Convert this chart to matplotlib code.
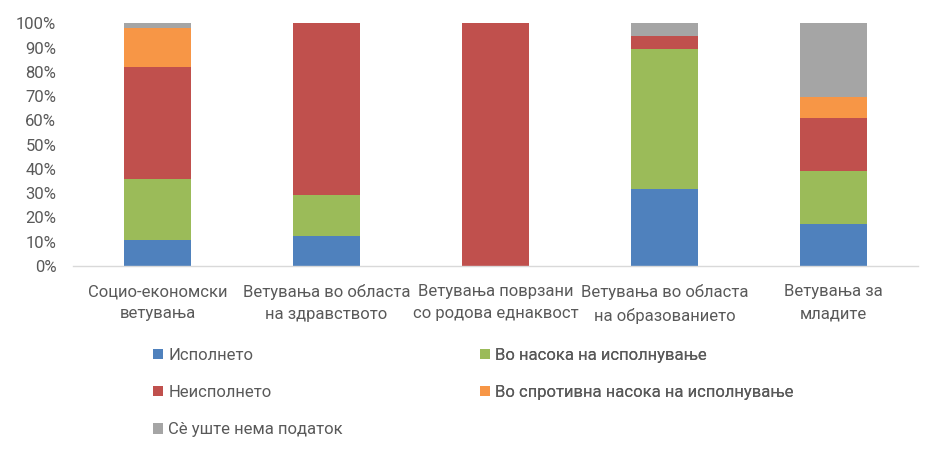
import matplotlib.pyplot as plt
import numpy as np

plt.rcParams['font.family'] = ['Roboto', 'DejaVu Sans']

categories = ["Социо-економски\nветувања", "Ветувања во областа\nна здравството",
              "Ветувања поврзани\nсо родова еднаквост", "Ветувања во областа\nна образованието",
              "Ветувања за\nмладите"]

# percentages per bar
ispolneto = [10.7, 12.5, 0.0, 31.6, 17.4]
vo_nasoka = [25.0, 16.7, 0.0, 57.9, 21.7]
neispolneto = [46.4, 70.8, 100.0, 5.3, 21.7]
sprotivna = [16.1, 0.0, 0.0, 0.0, 8.7]
nema_podatok = [1.8, 0.0, 0.0, 5.2, 30.5]

series = [
    ("Исполнето", ispolneto, "#4F81BD"),
    ("Во насока на исполнување", vo_nasoka, "#9BBB59"),
    ("Неисполнето", neispolneto, "#C0504D"),
    ("Во спротивна насока на исполнување", sprotivna, "#F79646"),
    ("Сè уште нема податок", nema_podatok, "#A5A5A5"),
]

fig = plt.figure(figsize=(9.4, 4.53), dpi=100)
ax = fig.add_axes([0.0777, 0.4128, 0.899, 0.5358])

x = np.arange(len(categories))
bottom = np.zeros(len(categories))
handles = {}
for name, vals, col in series:
    vals = np.array(vals)
    b = ax.bar(x, vals, 0.4, bottom=bottom, color=col, label=name)
    handles[name] = b
    bottom += vals

ax.set_xlim(-0.5, len(categories) - 0.5)
ax.set_ylim(0, 100)
ax.set_yticks(range(0, 101, 10))
ax.set_yticklabels([f"{v}%" for v in range(0, 101, 10)])
ax.set_xticks(x)
ax.set_xticklabels(categories, linespacing=1.6)
ax.tick_params(axis='both', length=0, labelsize=12, colors="#595959")
ax.tick_params(axis='x', pad=13)
ax.tick_params(axis='y', pad=12)
for s in ['top', 'right', 'left']:
    ax.spines[s].set_visible(False)
ax.spines['bottom'].set_color("#D9D9D9")
ax.spines['bottom'].set_linewidth(1)

groups = [(["Исполнето", "Неисполнето", "Сè уште нема податок"], 0.163),
          (["Во насока на исполнување", "Во спротивна насока на исполнување"], 0.511)]
for names, xpos in groups:
    leg = ax.legend([handles[n] for n in names], names, loc='upper left',
                    bbox_to_anchor=(xpos, 0.232), bbox_transform=fig.transFigure,
                    frameon=False, fontsize=12,
                    handlelength=0.6, handleheight=0.6, handletextpad=0.3,
                    labelspacing=1.33, borderaxespad=0, borderpad=0)
    for t in leg.get_texts():
        t.set_color("#595959")
    ax.add_artist(leg)

fig.savefig("out.png", dpi=100)
